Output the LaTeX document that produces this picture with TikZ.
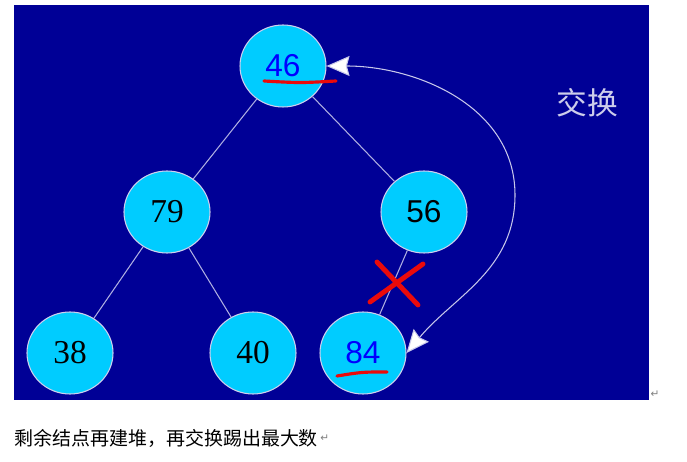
\documentclass[tikz,border=0pt]{standalone}
\usepackage{fontspec}
\setmainfont{Liberation Serif}
\setsansfont{Liberation Sans}
\newfontfamily\cjkfont{Noto Sans CJK SC}
\newfontfamily\symfont{DejaVu Sans}
\usepackage{tikz}
\usetikzlibrary{positioning}
\usetikzlibrary{calc}
\usetikzlibrary{arrows.meta}
\usetikzlibrary{shapes.geometric}

\definecolor{heapbg}{RGB}{0,0,150}
\definecolor{heapfill}{RGB}{0,204,255}
\definecolor{heapline}{RGB}{175,175,225}
\definecolor{heapmark}{RGB}{235,10,10}
\definecolor{heaplabel}{RGB}{205,205,235}

\tikzset{
    heapnode/.style={ellipse, draw=heapline!60!white, line width=0.6pt, fill=heapfill,
        minimum width=86*0.02cm, minimum height=82*0.02cm, inner sep=0pt},
    serifnum/.style={font=\fontsize{19}{19}\selectfont\rmfamily, text=black},
    sansnum/.style={font=\sffamily\fontsize{18}{18}\selectfont, text=black},
    movednum/.style={font=\sffamily\fontsize{18}{18}\selectfont, text=blue},
    heapedge/.style={draw=heapline, line width=0.6pt},
    redmark/.style={draw=heapmark, line cap=round},
    swaparrow/.style={draw=heapline!70!white, line width=0.6pt,
        {Stealth[length=0.46cm, width=0.4cm, inset=1.5pt, fill=white]}-{Stealth[length=0.46cm, width=0.4cm, inset=1.5pt, fill=white]}},
}

\begin{document}
\begin{tikzpicture}[x=0.02cm, y=-0.02cm]
    \useasboundingbox (0,0) rectangle (687,462);
    \fill[heapbg] (14,5) rectangle (649,400);

        \node[heapnode, movednum] (n46) at (283,66) {\raisebox{1pt}{46}};
        \node[heapnode, serifnum] (n79) at (167,212) {79};
        \node[heapnode, sansnum] (n56) at (424,212) {56};
        \node[heapnode, serifnum] (n38) at (70,353) {38};
        \node[heapnode, serifnum] (n40) at (253,353) {40};
        \node[heapnode, movednum] (n84) at (363,353) {\raisebox{1pt}{84}};

        \coordinate (bend) at (515,195);

        \draw[heapedge] (n46) -- (n79) (n46) -- (n56) (n79) -- (n38) (n79) -- (n40) (n56) -- (n84);

        \draw[swaparrow] (n46.east) to[out=0, in=90] (bend) to[out=-90, in=50] (n84.east);

        \draw[redmark, line width=2.8pt] (377,262) -- (418,305) (423,264) -- (370,302);
        \draw[redmark, line width=1.8pt] (264,81) .. controls (300,83) .. (336,81);
        \draw[redmark, line width=1.8pt] (337,376) .. controls (362,372) .. (387,372);

        \node[text=heaplabel, font=\fontsize{17.5}{17.5}\selectfont\cjkfont] (swap) at (587,103) {交换};
        \node[anchor=west, inner sep=0pt, font=\fontsize{10.8}{10.8}\selectfont\cjkfont] (caption) at (14,438) {剩余结点再建堆，再交换踢出最大数};
        \node[right=1pt of caption, inner sep=0pt, text=gray, font=\fontsize{6}{6}\selectfont\symfont] (ret1) {↵};
        \node[inner sep=0pt, text=gray, font=\fontsize{6}{6}\selectfont\symfont] (ret2) at (655,394) {↵};
\end{tikzpicture}
\end{document}
